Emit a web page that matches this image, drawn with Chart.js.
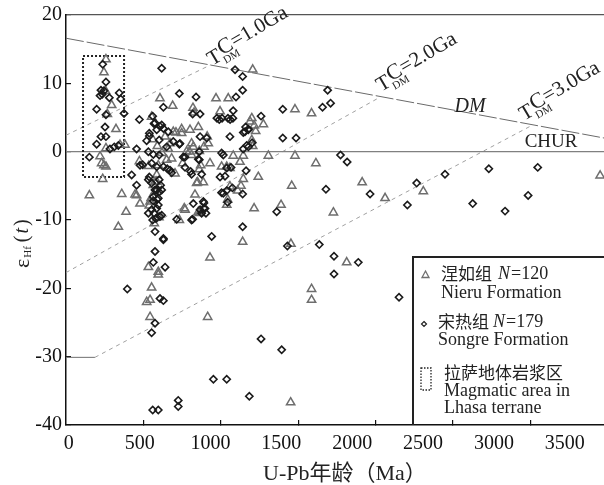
<!DOCTYPE html>
<html><head><meta charset="utf-8">
<script src="https://cdn.jsdelivr.net/npm/chart.js@4.4.1/dist/chart.umd.min.js"></script>
<style>html,body{margin:0;padding:0;background:#fff;}#wrap{width:604px;height:485px;position:relative;}</style>
</head><body><div id="wrap"><canvas id="c"></canvas></div>
<script>
// Nieru Formation (triangles): [U-Pb age Ma, eHf(t)]
const nieru = [
[258,13.5],[245,11.6],[255,8.9],[295,6.8],[267,5.5],[323,3.3],[258,0.5],[381,1.0],[220,-0.7],[230,-1.7],[245,-2.0],[258,-2.2],[237,-4.0],[151,-6.4],
[360,-6.2],[388,-8.8],[338,-11.0],[456,-6.4],[478,-7.6],[474,-1.4],[446,-6.3],[349,1.0],
[607,7.8],[689,6.7],[553,5.1],[693,2.9],[747,3.3],[747,2.7],[710,2.8],[672,1.2],[682,-1.0],[704,-3.2],[661,0.4],[534,-2.1],[586,-4.4],[575,-5.9],[543,-7.3],[538,-7.9],[586,-3.4],[575,-4.4],[564,-4.9],[550,-6.8],[596,-2.0],[620,-0.2],[560,1.8],[640,2.2],[590,0.8],[650,-1.2],[600,-9.6],[570,-10.5],
[801,3.2],[754,-1.7],[779,0.0],[797,0.0],[822,0.7],[891,0.7],[861,0.1],[811,1.2],[919,1.2],[811,-0.5],[930,-1.7],[861,-2.6],[870,-2.0],[850,-4.5],[887,-4.5],[844,-4.6],[833,-6.3],[861,-9.0],[855,-8.8],[769,-8.5],[764,-8.3],[732,-10.0],[930,-15.5],
[820,6.4],[827,5.7],[855,3.6],[912,2.2],[969,7.8],[1048,7.8],[995,5.9],[1206,12.0],[1200,4.9],[1189,4.4],[1216,3.8],[1275,4.0],[1225,3.0],[1200,1.7],[1206,0.8],[1307,-0.6],[1479,-0.6],[1479,6.2],[1586,5.6],[1614,-1.7],
[1005,-2.2],[1038,-2.2],[1080,-0.6],[1145,-0.6],[1124,-1.5],[1059,-2.4],[1145,-4.0],[1242,-3.7],[1109,-5.7],[1130,-5.0],[1059,-5.1],[1044,-7.0],[1038,-7.8],[1215,-8.3],[1389,-7.8],[1458,-5.0],
[1913,-4.5],[2061,-6.8],[2308,-5.8],[1727,-8.9],[3450,-3.5],[1813,-16.2],[1586,-20.1],[1586,-21.7],[1141,-13.2],[1453,-13.5],[915,-24.2],[1451,-36.7],
[532,-16.9],[596,-17.6],[596,-18.0],[553,-19.9],[521,-22.0],[543,-21.7],[543,-24.2]
];
// Songre Formation (diamonds)
const songre = [
[237,12.8],[258,10.2],[226,9.0],[245,8.9],[234,8.4],[220,8.2],[280,7.9],[344,8.6],[353,7.7],[198,6.2],[258,5.4],[375,5.6],[252,3.6],[226,2.2],[258,2.2],[198,1.1],[284,0.4],[312,0.7],[338,0.9],[151,-0.8],
[424,-3.4],[456,-4.9],[456,0.4],[474,4.7],[478,-2.0],[495,-1.9],[396,-20.1],
[618,12.2],[629,6.5],[732,8.5],[840,8.0],[1098,8.0],[1092,12.0],[1141,11.0],[1141,9.0],[818,5.5],[866,5.5],[1080,6.0],[975,4.9],[1008,4.9],[1046,4.9],[1078,4.9],[990,4.7],[1060,4.7],[1260,5.2],
[1156,2.9],[1178,3.3],[1160,3.6],[1145,2.8],[1178,3.2],[1059,2.2],[1167,0.9],[1178,0.7],[1145,0.4],[1202,1.3],[1400,6.2],[1400,2.0],[1486,2.0],[1361,-8.8],[1163,-2.8],[1141,-6.2],[1044,-7.4],[1066,-2.3],[1016,-6.1],[1038,-5.7],[1016,-0.5],[1038,-2.4],[1027,-3.6],[1075,-5.3],[1005,-6.0],[1141,-11.0],[995,-3.7],[1005,-0.2],
[909,2.0],[866,2.2],[861,0.0],[861,-1.2],[855,-1.1],[876,-3.3],[811,-3.3],[805,-2.9],[891,-7.5],[891,-8.3],[866,-8.5],[904,-9.0],[887,-7.3],[898,-8.3],[876,-9.0],[818,-9.9],[811,-10.0],[715,-9.9],[769,-0.8],[757,-0.8],[769,-2.3],[732,1.1],[736,1.2],[822,-7.6],[941,-12.4],
[602,1.7],[672,-2.7],[682,-3.1],[521,1.6],[538,2.3],[538,2.7],[569,4.1],[560,5.2],[575,4.2],[618,3.9],[586,3.2],[607,3.7],[629,3.4],[661,2.9],[693,1.5],[650,0.7],[532,0.0],[564,-0.4],[602,-0.5],[553,-1.7],[586,-2.2],[629,-2.2],[654,-2.5],
[532,-4.1],[553,-4.6],[538,-3.7],[602,-4.1],[611,-4.9],[586,-5.6],[575,-5.6],[618,-5.6],[602,-5.9],[564,-6.6],[596,-6.8],[564,-7.2],[589,-7.0],[596,-7.8],[553,-8.5],[586,-8.3],[569,-9.0],[532,-9.0],[618,-9.3],[581,-9.8],[560,-10.0],[607,-9.5],[575,-11.7],[629,-12.7],[629,-12.9],[575,-14.6],[564,-16.2],[640,-16.9],[607,-21.5],[629,-21.8],[575,-25.1],[553,-26.5],
[725,-36.4],[725,-37.3],[560,-37.8],[596,-37.8],[952,-33.3],[1038,-33.3],[1184,-35.8],[1260,-27.4],[1393,-29.0],[1430,-13.8],
[1690,9.0],[1657,6.5],[1709,7.1],[1773,-0.5],[1816,-1.5],[1679,-5.5],[1964,-6.2],[2265,-4.6],[2205,-7.8],[2448,-3.3],[2627,-7.6],[2731,-2.5],[2836,-8.7],[2985,-6.4],[3047,-2.3],[1636,-13.6],[1731,-15.3],[1888,-16.2],[1731,-17.9],[2151,-21.3]
];
// Reference lines
const dmLine = [[0,16.6],[3475,2.0]];
const churLine = [[0,0],[3475,0]];
const tdm1Line = [[0,2.4],[934,12.7]];
const tdm2Line = [[0,-17.7],[2030,8.0]];
const tdm3Line = [[187,-30.1],[2997,3.7]];
const tdm3Base = [[0,-30.1],[187,-30.1]];
const lhasaBox = [[110,14.0],[375,14.0],[375,-3.7],[110,-3.7],[110,14.0]];
const xTickMarks = [500,1000,1500,2000,2500,3000];
const xTickLabels = [0,500,1000,1500,2000,2500,3000,3500];
const yTicks = [-40,-30,-20,-10,0,10,20];
const tdmText = ['1.0Ga','2.0Ga','3.0Ga'];
const xTitle = 'U-Pb年龄（Ma）';
const legendText = ['涅如组','N','=120','Nieru Formation','宋热组','N','=179','Songre Formation','拉萨地体岩浆区','Magmatic area in','Lhasa terrane'];

const SERIF = '"Liberation Serif","Times New Roman",serif';
const CJK = '"Liberation Serif","Noto Sans CJK SC",sans-serif';
const pts = a => a.map(p => ({x:p[0], y:p[1]}));
const lineDs = (d, color, w, dash) => ({type:'scatter', data:pts(d), showLine:true, pointRadius:0, borderColor:color, borderWidth:w, borderDash:dash||[], fill:false, order:5, tension:0});
const noPad = s => { s.paddingTop = 0; s.paddingBottom = 0; s.paddingLeft = 0; s.paddingRight = 0; };

const annot = {
  id:'annot',
  afterDatasetsDraw(chart){
    const c = chart.ctx, xs = chart.scales.x, ys = chart.scales.y;
    c.save();
    c.fillStyle = '#222';
    c.textAlign = 'left'; c.textBaseline = 'alphabetic';
    const tdmAt = [[943,12.55],[2035,8.74],[2959,4.49]];
    tdmAt.forEach((p,i)=>{
      c.save();
      c.translate(xs.getPixelForValue(p[0]), ys.getPixelForValue(p[1]));
      c.rotate(-0.53);
      c.font = '21px '+SERIF; c.fillText('T',0,0);
      c.font = '11px '+SERIF; c.fillText('DM',13,5);
      c.font = '22px '+SERIF; c.fillText('C',14,-4);
      c.font = '21px '+SERIF; c.fillText('='+tdmText[i],29,-4);
      c.restore();
    });
    c.textAlign = 'center'; c.textBaseline = 'middle';
    c.font = 'italic 20px '+SERIF;
    c.fillText('DM', xs.getPixelForValue(2610), ys.getPixelForValue(6.54));
    c.font = '19px '+SERIF;
    c.fillText('CHUR', xs.getPixelForValue(3133), ys.getPixelForValue(1.42));

    // x title
    c.textAlign = 'left'; c.textBaseline = 'middle';
    c.font = '22px '+CJK;
    c.fillText(xTitle, 263, 474);

    // y title
    c.save();
    c.translate(23, 268); c.rotate(-Math.PI/2);
    c.textAlign = 'left'; c.textBaseline = 'middle';
    let u = 0;
    c.font = '22px '+SERIF; c.fillText('ε',u,0); u += c.measureText('ε').width + 1;
    c.font = '11px '+SERIF; c.fillText('Hf',u,5); u += c.measureText('Hf').width + 4;
    c.font = '20px '+SERIF; c.fillText('(',u,0); u += c.measureText('(').width + 2;
    c.font = 'italic 20px '+SERIF; c.fillText('t',u,0); u += c.measureText('t').width + 2;
    c.font = '20px '+SERIF; c.fillText(')',u,0);
    c.restore();

    // legend box
    c.strokeStyle = '#222'; c.lineWidth = 2;
    c.beginPath(); c.moveTo(413,425); c.lineTo(413,257); c.lineTo(605,257); c.stroke();
    c.strokeStyle = '#707070'; c.lineWidth = 1.3;
    c.beginPath(); c.moveTo(425.5,271); c.lineTo(429,277.5); c.lineTo(422,277.5); c.closePath(); c.stroke();
    c.strokeStyle = '#222'; c.lineWidth = 1.2;
    c.beginPath(); c.moveTo(424,321.5); c.lineTo(426.5,324); c.lineTo(424,326.5); c.lineTo(421.5,324); c.closePath(); c.stroke();
    c.setLineDash([1.5,1.5]); c.lineWidth = 1.3;
    c.strokeRect(421,368,10,22);
    c.setLineDash([]);
    c.fillStyle = '#222'; c.textAlign = 'left'; c.textBaseline = 'middle';
    c.font = '17px "Noto Sans CJK SC"'; c.fillText(legendText[0],441,274);
    c.font = 'italic 18px '+SERIF; c.fillText(legendText[1],498,274);
    c.font = '18px '+SERIF; c.fillText(legendText[2],511,274);
    c.fillText(legendText[3],441,293);
    c.font = '17px "Noto Sans CJK SC"'; c.fillText(legendText[4],438,322);
    c.font = 'italic 18px '+SERIF; c.fillText(legendText[5],493,322);
    c.font = '18px '+SERIF; c.fillText(legendText[6],506,322);
    c.fillText(legendText[7],438,340);
    c.font = '17px "Noto Sans CJK SC"'; c.fillText(legendText[8],444,373);
    c.font = '18px '+SERIF; c.fillText(legendText[9],444,391);
    c.fillText(legendText[10],444,408);
    c.restore();
  }
};

new Chart(document.getElementById('c'), {
  type:'scatter',
  data:{ datasets:[
    {label:'Songre', data:pts(songre), pointStyle:'rectRot', pointRadius:3.6, borderColor:'#1a1a1a', backgroundColor:'rgba(255,255,255,0)', borderWidth:1.6, order:0},
    {label:'Nieru', data:pts(nieru), pointStyle:'triangle', pointRadius:4.8, borderColor:'#6e6e6e', backgroundColor:'rgba(255,255,255,0)', borderWidth:1.5, order:1},
    lineDs(lhasaBox,'#222',2,[2,2]),
    lineDs(dmLine,'#6a6a6a',1,[18,3]),
    lineDs(churLine,'#808080',1.3),
    lineDs(tdm1Line,'#a0a0a0',1,[4,4]),
    lineDs(tdm2Line,'#a0a0a0',1,[4,4]),
    lineDs(tdm3Line,'#a0a0a0',1,[4,4]),
    lineDs(tdm3Base,'#707070',1)
  ]},
  options:{
    responsive:true, maintainAspectRatio:false, animation:false,
    layout:{autoPadding:false, padding:{top:15,left:0,right:0,bottom:0}},
    plugins:{legend:{display:false}, tooltip:{enabled:false}},
    scales:{
      x:{type:'linear', position:'bottom', min:0, max:3475, weight:0,
        ticks:{display:false},
        afterBuildTicks(s){ s.ticks = xTickMarks.map(v=>({value:v})); },
        grid:{display:true, drawOnChartArea:false, tickLength:-5, color:'#111', lineWidth:1.2},
        border:{display:true, color:'#111', width:1.5},
        afterFit(s){ s.height = 0; noPad(s); }},
      x2:{type:'linear', position:'bottom', min:-20, max:3777, weight:1,
        ticks:{autoSkip:false, maxRotation:0, color:'#111', font:{size:20, family:SERIF}, padding:7, callback:v=>String(v)},
        afterBuildTicks(s){ s.ticks = xTickLabels.map(v=>({value:v})); },
        grid:{display:false, drawTicks:false},
        border:{display:false},
        afterFit(s){ s.height = 60; noPad(s); }},
      xTop:{type:'linear', position:'top', min:0, max:1,
        ticks:{display:false}, grid:{display:false, drawTicks:false},
        border:{display:true, color:'#555', width:1.2},
        afterFit(s){ s.height = 0; noPad(s); }},
      y:{type:'linear', min:-40, max:20,
        ticks:{color:'#111', font:{size:20, family:SERIF}, padding:9, callback:v=>String(v)},
        afterBuildTicks(s){ s.ticks = yTicks.map(v=>({value:v})); },
        grid:{display:true, drawOnChartArea:false, tickLength:-5, color:'#111', lineWidth:1.2},
        border:{display:true, color:'#111', width:1.5},
        afterFit(s){ s.width = 66; noPad(s); }}
    }
  },
  plugins:[annot]
});
</script></body></html>
